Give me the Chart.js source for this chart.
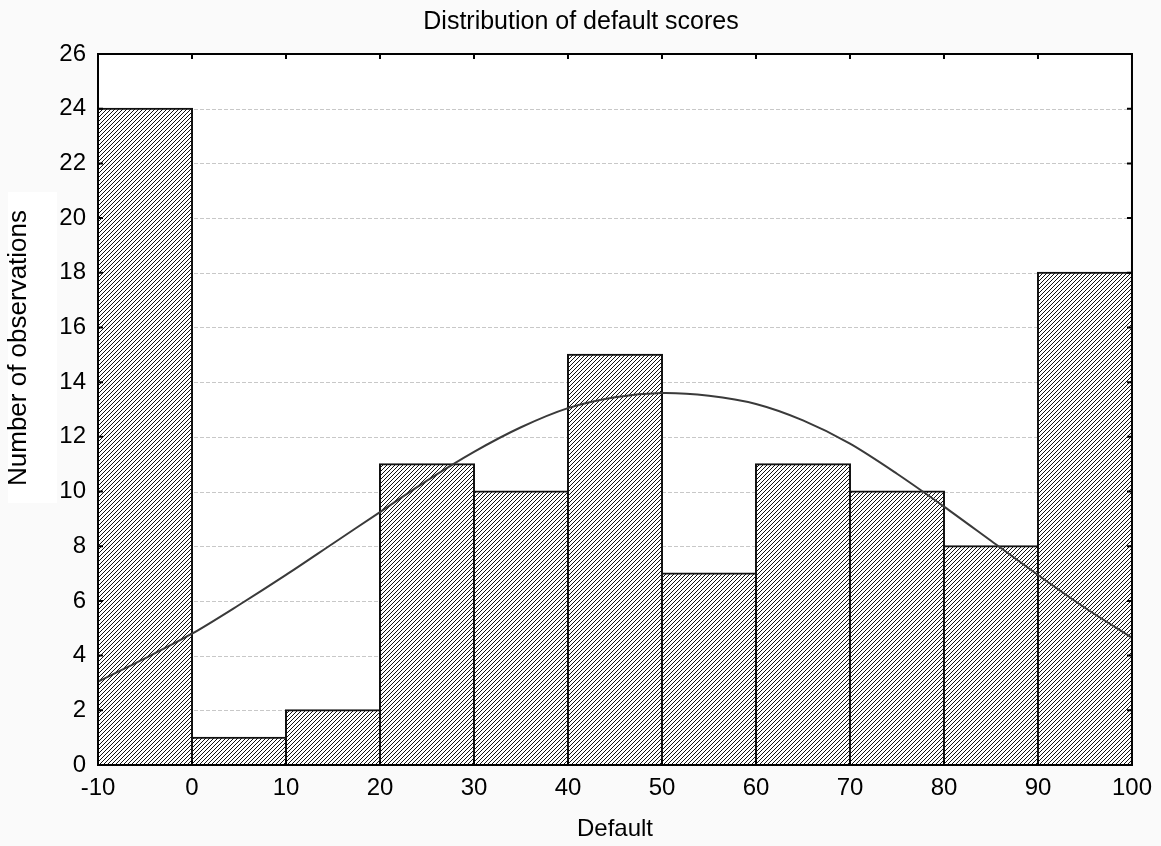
<!DOCTYPE html>
<html>
<head>
<meta charset="utf-8">
<title>Distribution of default scores</title>
<script src="https://cdn.jsdelivr.net/npm/chart.js@4/dist/chart.umd.min.js"></script>
<style>
  html, body { margin: 0; padding: 0; background: #fafafa; }
  canvas { display: block; }
</style>
</head>
<body>
<canvas id="histChart" width="1161" height="846"></canvas>
<script>
// bin centres (bins are 10 wide, from -10 to 100)
const binCenters = [-5, 5, 15, 25, 35, 45, 55, 65, 75, 85, 95];
const binCounts = [24, 1, 2, 11, 10, 15, 7, 11, 10, 8, 18];

// expected normal curve, read at every 5 units
const curveX = [-10, -5, 0, 5, 10, 15, 20, 25, 30, 35, 40, 45, 50, 55, 60, 65, 70, 75, 80, 85, 90, 95, 100];
const curveY = [3.05, 3.9, 4.8, 5.85, 6.95, 8.1, 9.25, 10.4, 11.45, 12.35, 13.05, 13.45, 13.6, 13.5, 13.2, 12.6, 11.75, 10.65, 9.45, 8.2, 6.95, 5.75, 4.65];

const xTicks = [-10, 0, 10, 20, 30, 40, 50, 60, 70, 80, 90, 100];
const yTicks = [0, 2, 4, 6, 8, 10, 12, 14, 16, 18, 20, 22, 24, 26];

const FONT = "'Liberation Sans', Arial, sans-serif";

// diagonal hatch fill for the bars
function makeHatch() {
    const size = 4;
    const c = document.createElement('canvas');
    c.width = size;
    c.height = size;
    const g = c.getContext('2d');
    g.fillStyle = '#ffffff';
    g.fillRect(0, 0, size, size);
    g.strokeStyle = '#111111';
    g.lineWidth = 1;
    g.beginPath();
    g.moveTo(-1, size + 1);
    g.lineTo(size + 1, -1);
    g.moveTo(-1, 1);
    g.lineTo(1, -1);
    g.moveTo(size - 1, size + 1);
    g.lineTo(size + 1, size - 1);
    g.stroke();
    return g.createPattern(c, 'repeat');
}

const ctx = document.getElementById('histChart').getContext('2d');

// white plot area, dashed grid, frame with inward ticks, titles
const framePlugin = {
    id: 'frame',
    beforeDraw(chart) {
        const c = chart.ctx;
        const a = chart.chartArea;
        c.save();
        c.fillStyle = '#fafafa';
        c.fillRect(0, 0, chart.width, chart.height);
        c.fillStyle = '#ffffff';
        c.fillRect(8, 192, 49, 311);
        c.fillRect(a.left, a.top, a.right - a.left, a.bottom - a.top);
        c.restore();
    },
    beforeDatasetsDraw(chart) {
        const c = chart.ctx;
        const a = chart.chartArea;
        const y = chart.scales.y;
        c.save();
        c.strokeStyle = '#c8c8c8';
        c.lineWidth = 1;
        c.setLineDash([4, 2]);
        yTicks.forEach(v => {
            if (v === 0 || v === 26) return;
            const py = Math.round(y.getPixelForValue(v)) + 0.5;
            c.beginPath();
            c.moveTo(a.left, py);
            c.lineTo(a.right, py);
            c.stroke();
        });
        c.restore();
    },
    afterDatasetsDraw(chart) {
        const c = chart.ctx;
        const a = chart.chartArea;
        const x = chart.scales.x;
        const y = chart.scales.y;
        const t = 5;
        c.save();
        c.strokeStyle = '#000000';
        c.lineWidth = 2;
        c.strokeRect(a.left, a.top, a.right - a.left, a.bottom - a.top);
        c.beginPath();
        xTicks.forEach(v => {
            const px = x.getPixelForValue(v);
            c.moveTo(px, a.top);
            c.lineTo(px, a.top + t);
            c.moveTo(px, a.bottom);
            c.lineTo(px, a.bottom - t);
        });
        yTicks.forEach(v => {
            const py = y.getPixelForValue(v);
            c.moveTo(a.left, py);
            c.lineTo(a.left + t, py);
            c.moveTo(a.right, py);
            c.lineTo(a.right - t, py);
        });
        c.stroke();

        c.fillStyle = '#000000';
        c.textAlign = 'center';
        c.textBaseline = 'middle';
        c.font = '25px ' + FONT;
        c.fillText('Distribution of default scores', 581, 22);
        c.font = '24px ' + FONT;
        c.fillText('Default', (a.left + a.right) / 2, 829);
        c.translate(19, 348);
        c.rotate(-Math.PI / 2);
        c.font = '26px ' + FONT;
        c.fillText('Number of observations', 0, 0);
        c.restore();
    }
};

new Chart(ctx, {
    data: {
        datasets: [{
            type: 'line',
            label: 'Normal',
            data: curveX.map((v, i) => ({ x: v, y: curveY[i] })),
            borderColor: '#3a3a3a',
            borderWidth: 2,
            pointRadius: 0,
            tension: 0.3,
            fill: false,
            order: 0
        }, {
            type: 'bar',
            label: 'Default',
            data: binCenters.map((v, i) => ({ x: v, y: binCounts[i] })),
            backgroundColor: makeHatch(),
            borderColor: '#111111',
            borderWidth: 2,
            borderSkipped: false,
            inflateAmount: 1,
            barPercentage: 1,
            categoryPercentage: 1,
            order: 1
        }]
    },
    options: {
        responsive: false,
        animation: false,
        layout: { padding: { top: 54, right: 28, left: 0, bottom: 0 } },
        plugins: {
            legend: { display: false },
            tooltip: { enabled: false },
            title: { display: false }
        },
        scales: {
            x: {
                type: 'linear',
                min: -10,
                max: 100,
                offset: false,
                afterBuildTicks: s => { s.ticks = xTicks.map(v => ({ value: v })); },
                afterFit: s => { s.height = 81; },
                grid: { display: false, drawTicks: false, offset: false },
                border: { display: false },
                ticks: {
                    color: '#000000',
                    padding: 9,
                    maxRotation: 0,
                    font: { family: FONT, size: 24 }
                }
            },
            y: {
                min: 0,
                max: 26,
                afterBuildTicks: s => { s.ticks = yTicks.map(v => ({ value: v })); },
                afterFit: s => { s.width = 98; },
                grid: { display: false, drawTicks: false },
                border: { display: false },
                ticks: {
                    color: '#000000',
                    padding: 12,
                    font: { family: FONT, size: 24 }
                }
            }
        }
    },
    plugins: [framePlugin]
});
</script>
</body>
</html>
